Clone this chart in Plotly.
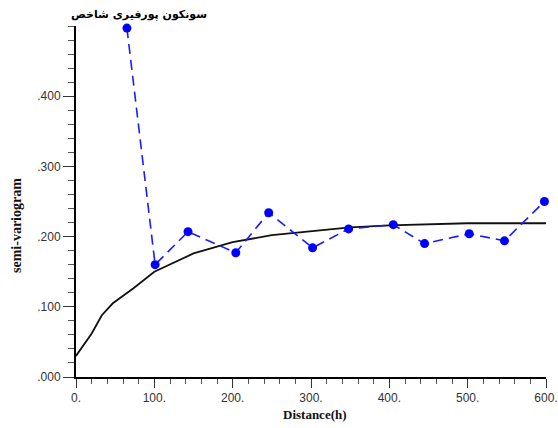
import plotly.graph_objects as go

# Experimental semi-variogram (lag distance, value)
lag_h = [65, 101, 143, 204, 246, 302, 348, 405, 445, 502, 547, 598]
gamma_exp = [497, 160, 207, 177, 234, 184, 211, 217, 190, 204, 194, 250]

# Fitted model curve
model_h = [0, 20, 33, 47, 73, 100, 150, 200, 250, 300, 350, 400, 450, 500, 550, 600]
model_g = [30, 62, 88, 105, 126, 150, 176, 192, 202, 208, 213, 216, 218, 219, 219, 219]

x_tickvals = [0, 100, 200, 300, 400, 500, 600]
x_ticktext = ["0.", "100.", "200.", "300.", "400.", "500.", "600."]
y_tickvals = [0, 100, 200, 300, 400]
y_ticktext = [".000", ".100", ".200", ".300", ".400"]

title_text = "سونکون پورفیری شاخص"
x_title = "Distance(h)"
y_title = "semi-variogram"

fig = go.Figure()
fig.add_trace(go.Scatter(x=model_h, y=model_g, mode="lines",
                         line=dict(color="#111111", width=1.8), showlegend=False))
fig.add_trace(go.Scatter(x=lag_h, y=gamma_exp, mode="lines+markers",
                         line=dict(color="#1a1aff", width=1.6, dash="10px,6px"),
                         marker=dict(color="#0000ff", size=9), cliponaxis=False,
                         showlegend=False))

tickfont = dict(family="Liberation Sans, Arial", size=12, color="#333333")
fig.update_layout(
    width=558, height=428,
    margin=dict(l=76, r=12, t=26, b=51, autoexpand=False),
    paper_bgcolor="white", plot_bgcolor="white",
    xaxis=dict(range=[0, 600], showgrid=False, zeroline=False, automargin=False,
               showline=True, linecolor="black", linewidth=2,
               ticks="outside", ticklen=9, tickwidth=1, tickcolor="#333",
               tickvals=x_tickvals, ticktext=x_ticktext, tickfont=tickfont,
               minor=dict(dtick=20, ticks="outside", ticklen=5, tickcolor="#555", showgrid=False)),
    yaxis=dict(range=[0, 500], showgrid=False, zeroline=False, automargin=False,
               showline=True, linecolor="black", linewidth=2,
               ticks="outside", ticklen=11, tickwidth=1, tickcolor="#333",
               tickvals=y_tickvals, ticktext=y_ticktext, tickfont=tickfont,
               minor=dict(dtick=20, ticks="outside", ticklen=6, tickcolor="#555", showgrid=False)),
    annotations=[
        dict(text="<b>" + title_text + "</b>", x=139, y=15, showarrow=False,
             font=dict(family="DejaVu Sans", size=11, color="black")),
        dict(text="<b>" + x_title + "</b>", x=315, y=414, showarrow=False,
             font=dict(family="Liberation Serif, Times New Roman", size=13, color="#111")),
        dict(text="<b>" + y_title + "</b>", x=16, y=226, showarrow=False, textangle=-90,
             font=dict(family="Liberation Serif, Times New Roman", size=14, color="#111")),
    ],
)
# convert pixel annotation positions to paper coords
W, H = 558, 428
l, r, t, b = 76, 12, 26, 51
pw, ph = W - l - r, H - t - b
for a in fig.layout.annotations:
    a.xref = "paper"; a.yref = "paper"
    a.x = (a.x - l) / pw
    a.y = (H - b - a.y) / ph
    a.xanchor = "center"; a.yanchor = "middle"

fig.write_html("out.html")
